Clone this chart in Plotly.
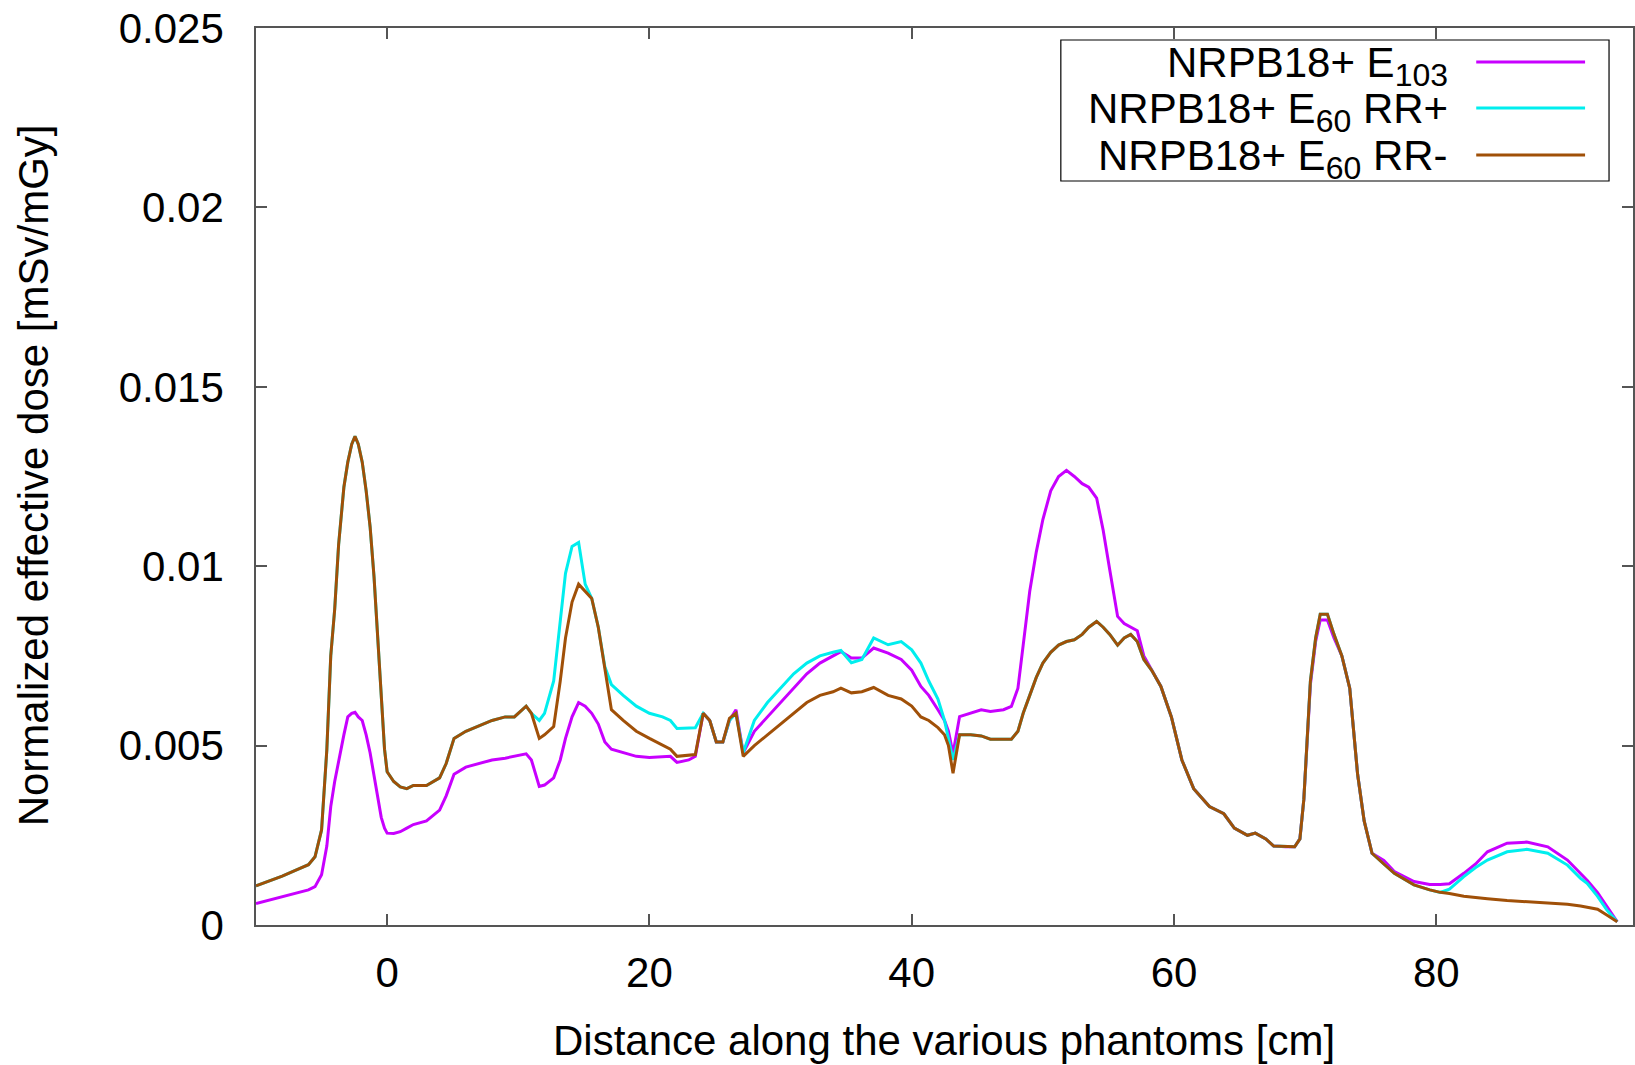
import plotly.graph_objects as go

# distance along the phantoms [cm]
distance = [-10, -9, -8, -7, -6, -5.5, -5, -4.6, -4.3, -4, -3.7, -3.3, -3, -2.7, -2.45, -2.2, -1.9, -1.6, -1.3, -1,
            -0.7, -0.45, -0.2, 0, 0.5, 1, 1.5, 2, 3, 4, 4.5, 5.1, 6, 7, 8, 9, 9.7, 10.6, 11, 11.6,
            12, 12.7, 13.2, 13.6, 14.1, 14.6, 15.1, 15.6, 16.1, 16.6, 17.1, 18, 19, 20, 21, 21.6, 22.1, 23, 23.5, 24.1,
            24.6, 25.1, 25.6, 26.1, 26.6, 27.15, 28, 29, 30, 31, 32, 33, 34, 34.6, 35.4, 36.2, 37.1, 38.2, 39.2, 40,
            40.7, 41.3, 42, 42.5, 42.8, 43.15, 43.65, 44.5, 45.3, 46, 47, 47.6, 48.1, 48.5, 49, 49.5, 50, 50.6, 51.2, 51.8,
            52.4, 53, 53.5, 54.1, 54.6, 55.1, 55.7, 56.2, 56.7, 57.2, 57.7, 58.3, 59, 59.8, 60.6, 61.5, 62.7, 63.8, 64.6, 65.6,
            66.2, 67, 67.6, 68.5, 69.2, 69.6, 69.9, 70.4, 70.8, 71.15, 71.7, 72.2, 72.8, 73.4, 74, 74.5, 75.1, 76, 76.8, 78.3,
            79.5, 80.3, 81, 82.1, 83, 83.9, 85.4, 86.9, 88.5, 90, 91, 91.5, 92.3, 93, 93.8]

# NRPB18+ E103
dose_e103 = [0.0006, 0.0007, 0.0008, 0.0009, 0.00098, 0.00107, 0.0014, 0.0022, 0.0033, 0.0040, 0.0046, 0.0053, 0.0058, 0.0059, 0.00593, 0.0058, 0.0057, 0.0053, 0.0048, 0.0042,
             0.0036, 0.0030, 0.0027, 0.00256, 0.00255, 0.0026, 0.0027, 0.0028, 0.0029, 0.0032, 0.0036, 0.0042, 0.0044, 0.0045, 0.0046, 0.00465, 0.0047, 0.00477, 0.0046, 0.00386,
             0.0039, 0.0041, 0.0046, 0.0052, 0.0058, 0.0062, 0.0061, 0.0059, 0.0056, 0.0051, 0.0049, 0.0048, 0.0047, 0.00467, 0.0047, 0.0047, 0.00453, 0.0046, 0.0047, 0.0059,
             0.0057, 0.0051, 0.0051, 0.0057, 0.0060, 0.0048, 0.0054, 0.0058, 0.0062, 0.0066, 0.0070, 0.0073, 0.0075, 0.00762, 0.00744, 0.00744, 0.00772, 0.00758, 0.0074, 0.0071,
             0.00665, 0.0064, 0.0060, 0.0057, 0.0054, 0.00478, 0.00581, 0.0059, 0.0060, 0.00595, 0.0060, 0.00609, 0.0066, 0.0078, 0.0093, 0.0104, 0.0113, 0.0121, 0.0125, 0.01267,
             0.0125, 0.0123, 0.0122, 0.0119, 0.0110, 0.0099, 0.0086, 0.0084, 0.0083, 0.0082, 0.0075, 0.0071, 0.00665, 0.0058, 0.0046, 0.0038, 0.0033, 0.0031, 0.0027, 0.0025,
             0.00256, 0.0024, 0.0022, 0.00218, 0.00218, 0.0024, 0.0035, 0.0067, 0.0079, 0.0085, 0.0085, 0.0080, 0.0075, 0.0066, 0.0042, 0.0029, 0.0020, 0.0018, 0.00149, 0.00121,
             0.00113, 0.00113, 0.00115, 0.00144, 0.0017, 0.00204, 0.00228, 0.00231, 0.00218, 0.00181, 0.00145, 0.00125, 0.0009, 0.00051, 0.00009]

# NRPB18+ E60 RR+
dose_e60_rrp = [0.00109, 0.00122, 0.00136, 0.00152, 0.00168, 0.0019, 0.00265, 0.00488, 0.0075, 0.0088, 0.0106, 0.0122, 0.0129, 0.0134, 0.01362, 0.0134, 0.0129, 0.0121, 0.0111, 0.0097,
                0.0080, 0.0063, 0.0049, 0.00427, 0.0040, 0.00385, 0.0038, 0.00389, 0.00389, 0.0041, 0.0045, 0.0052, 0.0054, 0.00555, 0.0057, 0.0058, 0.0058, 0.0061, 0.0059, 0.0057,
                0.0059, 0.0068, 0.0085, 0.0098, 0.01055, 0.01066, 0.0095, 0.0091, 0.0083, 0.0072, 0.0067, 0.0064, 0.0061, 0.0059, 0.0058, 0.0057, 0.00548, 0.00548, 0.0055, 0.0059,
                0.0057, 0.0051, 0.0051, 0.0057, 0.0059, 0.0048, 0.0057, 0.0062, 0.0066, 0.0070, 0.0073, 0.0075, 0.0076, 0.00765, 0.00731, 0.0074, 0.0080, 0.00781, 0.0079, 0.00767,
                0.0073, 0.0068, 0.0063, 0.0057, 0.0052, 0.0046, 0.0053, 0.0053, 0.00527, 0.00518, 0.00518, 0.00518, 0.0054, 0.0059, 0.0064, 0.0069, 0.0073, 0.0076, 0.0078, 0.0079,
                0.00795, 0.0081, 0.0083, 0.00846, 0.0083, 0.0081, 0.0078, 0.0080, 0.0081, 0.0079, 0.0074, 0.0071, 0.00665, 0.0058, 0.0046, 0.0038, 0.0033, 0.0031, 0.0027, 0.0025,
                0.00256, 0.0024, 0.0022, 0.00218, 0.00218, 0.0024, 0.0035, 0.0068, 0.0080, 0.00866, 0.00866, 0.0081, 0.0075, 0.0066, 0.0042, 0.0029, 0.0020, 0.0017, 0.00144, 0.00112,
                0.00098, 0.00091, 0.0010, 0.00135, 0.0016, 0.00181, 0.00204, 0.00211, 0.0020, 0.00167, 0.0013, 0.00116, 0.0008, 0.00042, 0.00009]

# NRPB18+ E60 RR-
dose_e60_rrm = [0.00109, 0.00122, 0.00136, 0.00152, 0.00168, 0.0019, 0.00265, 0.00488, 0.0075, 0.0088, 0.0106, 0.0122, 0.0129, 0.0134, 0.01362, 0.0134, 0.0129, 0.0121, 0.0111, 0.0097,
                0.0080, 0.0063, 0.0049, 0.00427, 0.0040, 0.00385, 0.0038, 0.00389, 0.00389, 0.0041, 0.0045, 0.0052, 0.0054, 0.00555, 0.0057, 0.0058, 0.0058, 0.0061, 0.0059, 0.0052,
                0.0053, 0.00553, 0.0068, 0.0080, 0.0090, 0.0095, 0.0093, 0.0091, 0.0083, 0.0072, 0.0060, 0.0057, 0.0054, 0.0052, 0.0050, 0.0049, 0.0047, 0.00474, 0.00475, 0.0059,
                0.0057, 0.0051, 0.0051, 0.00576, 0.0059, 0.0047, 0.0050, 0.0053, 0.0056, 0.0059, 0.0062, 0.0064, 0.0065, 0.0066, 0.00647, 0.0065, 0.00662, 0.0064, 0.0063, 0.0061,
                0.0058, 0.0057, 0.0055, 0.0053, 0.0050, 0.00423, 0.0053, 0.0053, 0.00527, 0.00518, 0.00518, 0.00518, 0.0054, 0.0059, 0.0064, 0.0069, 0.0073, 0.0076, 0.0078, 0.0079,
                0.00795, 0.0081, 0.0083, 0.00846, 0.0083, 0.0081, 0.0078, 0.0080, 0.0081, 0.0079, 0.0074, 0.0071, 0.00665, 0.0058, 0.0046, 0.0038, 0.0033, 0.0031, 0.0027, 0.0025,
                0.00256, 0.0024, 0.0022, 0.00218, 0.00218, 0.0024, 0.0035, 0.0068, 0.0080, 0.00866, 0.00866, 0.0081, 0.0075, 0.0066, 0.0042, 0.0029, 0.0020, 0.0017, 0.00144, 0.00112,
                0.00098, 0.00091, 0.00088, 0.0008, 0.00076, 0.00073, 0.00068, 0.00065, 0.00062, 0.00058, 0.00053, 0.0005, 0.00044, 0.00028, 0.00009]

SUB = "<sub><span style='font-size:32px'>{}</span></sub>"
series_names = ["NRPB18+ E" + SUB.format("103"),
                "NRPB18+ E" + SUB.format("60") + " RR+",
                "NRPB18+ E" + SUB.format("60") + " RR-"]
series_values = [dose_e103, dose_e60_rrp, dose_e60_rrm]
series_colors = ["#C800FF", "#00EEEE", "#A05008"]

x_ticks = [0, 20, 40, 60, 80]
y_ticks = [0, 0.005, 0.01, 0.015, 0.02, 0.025]
y_tick_labels = ["0", "0.005", "0.01", "0.015", "0.02", "0.025"]
x_title = "Distance along the various phantoms [cm]"
y_title = "Normalized effective dose [mSv/mGy]"

FONT = "Liberation Sans, Arial, Helvetica, sans-serif"
FS = 42
W, H = 1635, 1065
L, R, T, B = 256, 0, 28, 140

fig = go.Figure()
for name, vals, col in zip(series_names, series_values, series_colors):
    fig.add_trace(go.Scatter(x=distance, y=vals, mode="lines", name=name,
                             line=dict(color=col, width=3), showlegend=False))

axis_common = dict(showline=True, linecolor="#555555", linewidth=1.5, mirror="ticks",
                   ticks="inside", ticklen=11, tickcolor="#555555", tickwidth=1.5,
                   showgrid=False, zeroline=False,
                   tickfont=dict(family=FONT, size=FS, color="black"))

fig.update_layout(
    width=W, height=H,
    margin=dict(l=L, r=R, t=T, b=B, pad=0),
    paper_bgcolor="white", plot_bgcolor="white",
    xaxis=dict(range=[-10, 95], tickvals=x_ticks, ticklabelstandoff=10, **axis_common),
    yaxis=dict(range=[0, 0.025], tickvals=y_ticks, ticktext=y_tick_labels, ticklabelstandoff=22,
               **axis_common),
)

# paper-coordinate helpers
px = lambda X: (X - L) / (W - L - R)
py = lambda Y: (H - B - Y) / (H - B - T)

fig.add_annotation(xref="paper", yref="paper", x=px(945), y=py(1040), xanchor="center", yanchor="middle",
                   text=x_title, showarrow=False, font=dict(family=FONT, size=FS, color="black"))
fig.add_annotation(xref="paper", yref="paper", x=px(33), y=py(475), xanchor="center", yanchor="middle",
                   text=y_title, textangle=-90, showarrow=False, font=dict(family=FONT, size=FS, color="black"))

# gnuplot-style key: text right-aligned, line sample to the right
fig.add_shape(type="rect", xref="paper", yref="paper",
              x0=px(1062), x1=px(1611), y0=py(181), y1=py(40),
              line=dict(color="black", width=1.2), fillcolor="white", layer="above")
row_y = [62, 108, 155]
for name, col, ry in zip(series_names, series_colors, row_y):
    fig.add_annotation(xref="paper", yref="paper", x=px(1452), y=py(ry + 4),
                       xanchor="right", yanchor="middle", text=name, showarrow=False,
                       font=dict(family=FONT, size=FS, color="black"))
    fig.add_shape(type="line", xref="paper", yref="paper",
                  x0=px(1478), x1=px(1587), y0=py(ry), y1=py(ry),
                  line=dict(color=col, width=3), layer="above")

fig.write_html("out.html")
